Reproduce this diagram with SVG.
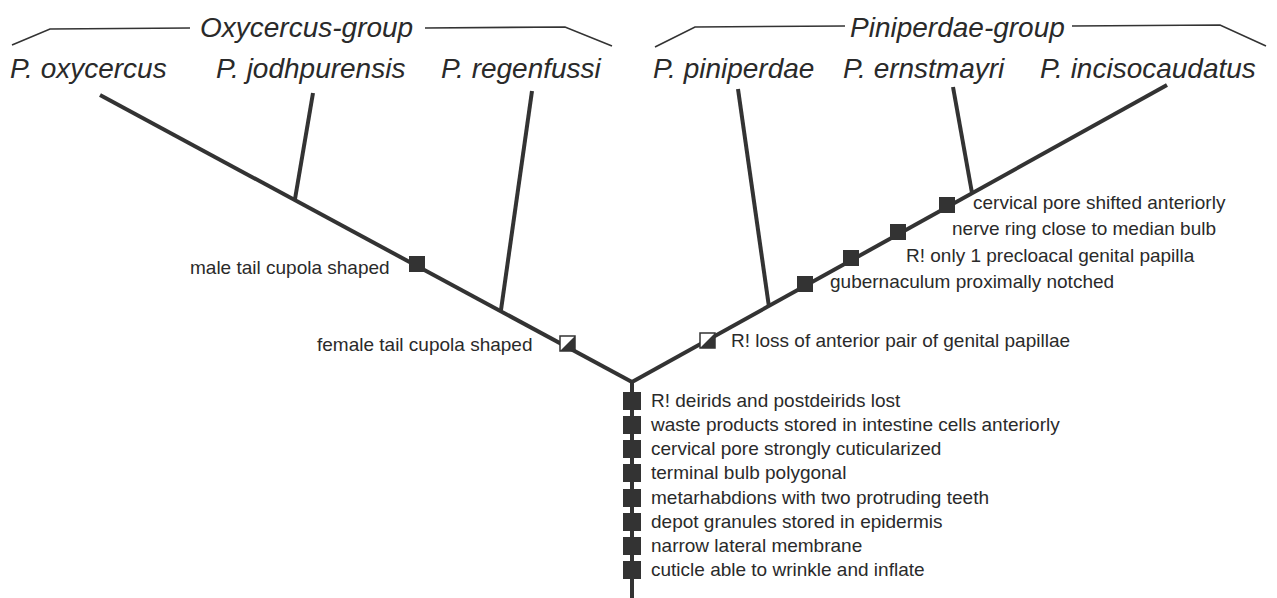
<svg xmlns="http://www.w3.org/2000/svg" width="1277" height="598" viewBox="0 0 1277 598">
<style>
.br{stroke:#333;stroke-width:4;fill:none;stroke-linecap:butt}
.bk{stroke:#333;stroke-width:1.6;fill:none}
.sp{font-family:"Liberation Sans",Arial,sans-serif;font-style:italic;font-size:28px;fill:#2a2a2a}
.gt{font-family:"Liberation Sans",Arial,sans-serif;font-style:italic;font-size:28px;fill:#2a2a2a}
.lb{font-family:"Liberation Sans",Arial,sans-serif;font-size:19px;fill:#2a2a2a}
.sq{fill:#333}
.hw{fill:#fff;stroke:#333;stroke-width:1.5}
</style>
<rect width="1277" height="598" fill="#fff"/>
<g id="connectors">
<line class="br" x1="632" y1="382" x2="100" y2="95"/>
<line class="br" x1="632" y1="382" x2="1167" y2="85"/>
<line class="br" x1="632" y1="380" x2="632" y2="598"/>
<line class="br" x1="295" y1="199" x2="313" y2="93"/>
<line class="br" x1="501" y1="310" x2="532" y2="91"/>
<line class="br" x1="769" y1="307" x2="738" y2="89"/>
<line class="br" x1="972" y1="193" x2="953" y2="87"/>
</g>
<g id="oxycercus-group">
<polyline class="bk" points="12,45 50,29 190,28"/>
<polyline class="bk" points="425,28 565,27 612,46"/>
<text class="gt" x="200" y="37">Oxycercus-group</text>
</g>
<g id="piniperdae-group">
<polyline class="bk" points="655,47 695,27 845,26"/>
<polyline class="bk" points="1072,26 1220,25 1266,46"/>
<text class="gt" x="850" y="37">Piniperdae-group</text>
</g>
<g id="p-oxycercus"><text class="sp" x="10" y="78">P. oxycercus</text></g>
<g id="p-jodhpurensis"><text class="sp" x="216" y="78">P. jodhpurensis</text></g>
<g id="p-regenfussi"><text class="sp" x="441" y="78">P. regenfussi</text></g>
<g id="p-piniperdae"><text class="sp" x="653" y="78">P. piniperdae</text></g>
<g id="p-ernstmayri"><text class="sp" x="843" y="78">P. ernstmayri</text></g>
<g id="p-incisocaudatus"><text class="sp" x="1040" y="78">P. incisocaudatus</text></g>
<g id="male-tail">
<rect class="sq" x="409" y="256" width="16" height="16"/>
<text class="lb" x="190" y="274">male tail cupola shaped</text>
</g>
<g id="female-tail">
<rect class="hw" x="560" y="336" width="15" height="15"/>
<polygon class="sq" points="560,351 575,336 575,351"/>
<text class="lb" x="317" y="351">female tail cupola shaped</text>
</g>
<g id="loss-anterior-pair">
<rect class="hw" x="700" y="333" width="15" height="15"/>
<polygon class="sq" points="700,348 715,333 715,348"/>
<text class="lb" x="731" y="347">R! loss of anterior pair of genital papillae</text>
</g>
<g id="gubernaculum">
<rect class="sq" x="797" y="276" width="16" height="16"/>
<text class="lb" x="830" y="288">gubernaculum proximally notched</text>
</g>
<g id="precloacal">
<rect class="sq" x="843" y="250" width="16" height="16"/>
<text class="lb" x="906" y="262">R! only 1 precloacal genital papilla</text>
</g>
<g id="nerve-ring">
<rect class="sq" x="890" y="224" width="16" height="16"/>
<text class="lb" x="952" y="235">nerve ring close to median bulb</text>
</g>
<g id="cervical-pore-shifted">
<rect class="sq" x="939" y="197" width="16" height="16"/>
<text class="lb" x="973" y="209">cervical pore shifted anteriorly</text>
</g>
<g id="trunk-characters">
<rect class="sq" x="623" y="392" width="18" height="18"/>
<text class="lb" x="651" y="407">R! deirids and postdeirids lost</text>
<rect class="sq" x="623" y="416" width="18" height="18"/>
<text class="lb" x="651" y="431">waste products stored in intestine cells anteriorly</text>
<rect class="sq" x="623" y="440" width="18" height="18"/>
<text class="lb" x="651" y="455">cervical pore strongly cuticularized</text>
<rect class="sq" x="623" y="464" width="18" height="18"/>
<text class="lb" x="651" y="479">terminal bulb polygonal</text>
<rect class="sq" x="623" y="489" width="18" height="18"/>
<text class="lb" x="651" y="504">metarhabdions with two protruding teeth</text>
<rect class="sq" x="623" y="513" width="18" height="18"/>
<text class="lb" x="651" y="528">depot granules stored in epidermis</text>
<rect class="sq" x="623" y="537" width="18" height="18"/>
<text class="lb" x="651" y="552">narrow lateral membrane</text>
<rect class="sq" x="623" y="561" width="18" height="18"/>
<text class="lb" x="651" y="576">cuticle able to wrinkle and inflate</text>
</g>
</svg>
